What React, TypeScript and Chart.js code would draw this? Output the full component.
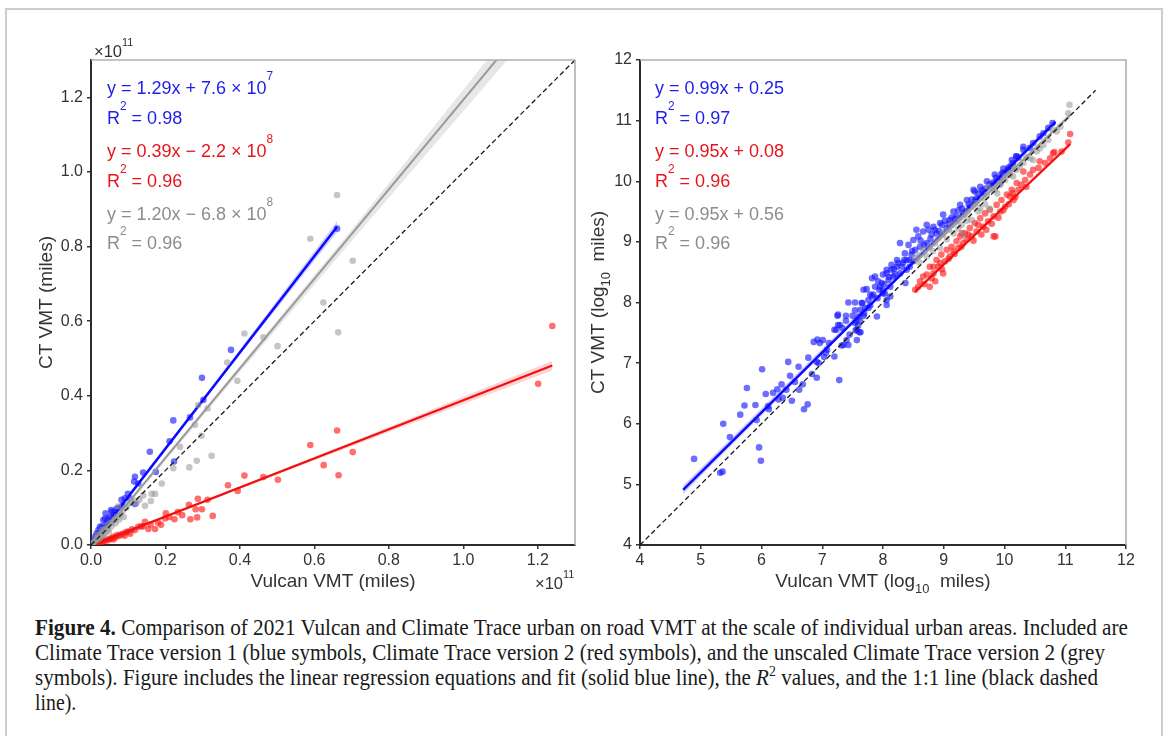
import React, { useEffect, useLayoutEffect, useRef } from 'react';
import { Chart, registerables } from 'chart.js';

Chart.register(...registerables);

type P = [number, number];
type B = [number, number, number];

// ---------------- LEFT PANEL (linear, units of 10^11 miles) ----------------
const LEFT_BLUE: P[] = [
  [0.661, 0.848], [0.376, 0.523], [0.298, 0.448], [0.302, 0.389], [0.266, 0.342], [0.221, 0.334],
  [0.211, 0.278], [0.223, 0.224], [0.158, 0.25], [0.174, 0.196], [0.14, 0.194], [0.118, 0.183],
  [0.116, 0.17], [0.127, 0.165], [0.099, 0.137], [0.105, 0.125], [0.091, 0.125], [0.082, 0.121],
  [0.118, 0.11], [0.069, 0.098], [0.064, 0.089], [0.056, 0.089], [0.075, 0.1], [0.085, 0.106],
  [0.06, 0.08], [0.05, 0.075], [0.046, 0.069], [0.038, 0.071], [0.033, 0.067], [0.042, 0.058],
  [0.036, 0.045], [0.03, 0.05], [0.028, 0.035], [0.024, 0.049], [0.02, 0.04], [0.018, 0.025],
  [0.015, 0.031], [0.012, 0.016], [0.011, 0.022], [0.008, 0.008], [0.007, 0.013], [0.005, 0.006],
  [0.004, 0.01], [0.003, 0.004], [0.002, 0.003], [0.026, 0.03], [0.014, 0.02], [0.01, 0.012],
  [0.006, 0.009], [0.022, 0.03], [0.054, 0.094], [0.039, 0.085],
];
const LEFT_RED: P[] = [
  [1.239, 0.587], [1.201, 0.432], [0.661, 0.307], [0.589, 0.268], [0.625, 0.214], [0.703, 0.249],
  [0.665, 0.187], [0.412, 0.186], [0.463, 0.182], [0.502, 0.175], [0.368, 0.16], [0.394, 0.145],
  [0.313, 0.121], [0.287, 0.124], [0.298, 0.096], [0.281, 0.096], [0.263, 0.108], [0.267, 0.069],
  [0.285, 0.074], [0.327, 0.078], [0.224, 0.069], [0.201, 0.085], [0.188, 0.054], [0.199, 0.071],
  [0.172, 0.043], [0.154, 0.043], [0.145, 0.062], [0.127, 0.049], [0.118, 0.04], [0.1, 0.036],
  [0.087, 0.031], [0.16, 0.055], [0.135, 0.05], [0.11, 0.042], [0.095, 0.035], [0.08, 0.028],
  [0.075, 0.024], [0.07, 0.027], [0.065, 0.02], [0.06, 0.022], [0.055, 0.018], [0.05, 0.016],
  [0.045, 0.012], [0.04, 0.014], [0.035, 0.01], [0.03, 0.009], [0.025, 0.006], [0.02, 0.005],
  [0.016, 0.004], [0.012, 0.003], [0.008, 0.002], [0.005, 0.001], [0.06, 0.015], [0.09, 0.025],
  [0.105, 0.03], [0.14, 0.05], [0.18, 0.06], [0.21, 0.075], [0.245, 0.08], [0.233, 0.088],
];
const LEFT_GREY: P[] = [
  [1.239, 1.79], [1.201, 1.32], [0.661, 0.938], [0.589, 0.821], [0.703, 0.762], [0.624, 0.65],
  [0.664, 0.57], [0.412, 0.567], [0.463, 0.557], [0.501, 0.533], [0.366, 0.489], [0.393, 0.44],
  [0.313, 0.366], [0.288, 0.375], [0.279, 0.322], [0.297, 0.293], [0.239, 0.263], [0.324, 0.239],
  [0.284, 0.226], [0.264, 0.208], [0.221, 0.206], [0.19, 0.165], [0.163, 0.137], [0.172, 0.137],
  [0.161, 0.118], [0.145, 0.105], [0.13, 0.121], [0.109, 0.116], [0.1, 0.11], [0.095, 0.1],
  [0.085, 0.092], [0.08, 0.082], [0.073, 0.103], [0.07, 0.076], [0.065, 0.07], [0.06, 0.066],
  [0.056, 0.06], [0.05, 0.058], [0.045, 0.05], [0.04, 0.045], [0.035, 0.04], [0.03, 0.034],
  [0.025, 0.028], [0.02, 0.022], [0.016, 0.017], [0.012, 0.012], [0.009, 0.009], [0.006, 0.006],
  [0.004, 0.003], [0.115, 0.12], [0.055, 0.05], [0.045, 0.042], [0.038, 0.03], [0.028, 0.024],
  [0.03, 0.04], [0.02, 0.028], [0.012, 0.02], [0.088, 0.075], [0.075, 0.068], [0.066, 0.058],
  [0.048, 0.036], [0.033, 0.028], [0.024, 0.018], [0.018, 0.014], [0.14, 0.133], [0.122, 0.112],
];
const LEFT_BLUE_FIT: P[] = [[0.002, 0.003], [0.661, 0.853]];
const LEFT_RED_FIT: P[] = [[0.002, -0.001], [1.239, 0.481]];
const LEFT_GREY_FIT: P[] = [[0.002, -0.004], [1.239, 1.48]];
const LEFT_ONE_TO_ONE: P[] = [[0, 0], [1.3, 1.3]];
const LEFT_BLUE_BAND: B[] = [[0.002, -0.002, 0.006], [0.3, 0.384, 0.392], [0.661, 0.838, 0.868]];
const LEFT_RED_BAND: B[] = [[0.002, -0.003, 0.0], [0.6, 0.227, 0.236], [1.239, 0.468, 0.494]];
const LEFT_GREY_BAND: B[] = [[0.002, -0.01, 0.0], [0.35, 0.405, 0.42], [0.7, 0.815, 0.845], [1.239, 1.44, 1.52]];
const LEFT_TICKS = [0, 0.2, 0.4, 0.6, 0.8, 1.0, 1.2];
const LEFT_TICK_LABELS = ['0.0', '0.2', '0.4', '0.6', '0.8', '1.0', '1.2'];

// ---------------- RIGHT PANEL (log10 miles) ----------------
const RIGHT_BLUE: P[] = [
  [4.89, 5.42], [5.32, 5.19], [5.36, 5.21], [5.48, 5.78], [5.37, 6.0], [5.65, 6.15], [5.72, 6.3],
  [5.76, 6.59], [5.9, 6.31], [5.92, 6.06], [5.96, 5.61], [5.99, 5.39], [6.01, 6.9], [6.07, 6.49],
  [6.11, 6.29], [6.12, 6.24], [6.19, 6.51], [6.26, 6.57], [6.33, 6.65], [6.28, 6.4], [6.35, 6.43],
  [6.41, 6.56], [6.44, 7.02], [6.47, 6.79], [6.5, 6.38], [6.55, 6.69], [6.62, 6.56], [6.61, 6.94],
  [6.68, 6.65], [6.7, 6.24], [6.76, 6.32], [6.77, 7.09], [6.83, 6.82], [6.91, 6.76], [6.91, 7.02],
  [6.94, 7.0], [6.86, 7.35], [6.92, 7.39], [7.01, 7.38], [6.96, 7.33], [7.03, 7.1], [7.06, 7.17],
  [7.28, 6.72], [7.26, 7.8], [7.26, 7.63], [7.33, 7.58], [7.2, 7.55], [7.11, 7.33], [7.08, 7.22],
  [7.2, 7.11], [7.35, 7.3], [7.4, 7.38], [7.45, 7.47], [7.57, 7.55], [7.54, 7.66], [7.6, 7.77],
  [7.69, 7.82], [7.76, 7.91], [7.63, 7.88], [7.66, 7.99], [7.82, 8.1], [7.94, 8.21], [8.0, 8.15],
  [7.91, 8.07], [7.57, 7.38], [7.63, 7.51],
  [7.23, 7.55], [7.29, 7.63], [7.25, 7.78], [7.39, 7.78], [7.39, 7.7], [7.32, 7.29], [7.43, 7.3],
  [7.43, 8.0], [7.54, 8.0], [7.54, 7.87], [7.5, 7.78], [7.56, 7.7], [7.59, 7.62], [7.55, 7.54],
  [7.61, 7.51], [7.65, 7.99], [7.71, 7.91], [7.68, 7.78], [7.62, 7.7], [7.73, 8.22], [7.76, 8.04],
  [7.79, 7.95], [7.84, 8.13], [7.9, 7.77], [7.87, 8.43], [7.92, 8.35], [7.95, 8.26], [8.0, 8.46],
  [8.06, 8.48], [8.09, 8.37], [8.12, 8.26], [8.03, 8.15], [8.06, 8.04], [8.14, 8.54], [8.17, 8.43],
  [8.23, 8.59], [8.28, 8.48], [8.33, 8.65], [8.39, 8.7], [8.47, 8.79], [8.5, 8.68], [8.44, 8.59],
  [8.39, 8.54], [8.06, 7.96], [8.12, 8.1], [8.37, 8.32],
  [7.68, 8.21], [7.79, 8.13], [7.98, 8.32], [8.06, 8.54], [8.14, 8.62], [8.2, 8.46], [8.23, 8.7],
  [8.31, 8.59], [8.36, 8.81], [8.42, 8.95], [8.44, 8.7], [8.5, 9.03], [8.53, 8.87], [8.58, 9.09],
  [8.61, 8.92], [8.66, 9.17], [8.72, 8.98], [8.75, 9.2], [8.8, 9.12], [8.83, 9.25], [8.88, 9.14],
  [8.94, 9.31], [8.99, 9.45], [9.05, 9.23], [9.1, 9.36], [9.16, 9.5], [9.21, 9.42], [9.27, 9.61],
  [9.32, 9.45], [9.38, 9.69], [9.43, 9.58], [9.49, 9.86], [9.54, 9.72], [9.6, 9.91], [9.65, 9.8],
  [9.71, 10.0], [9.79, 9.91], [9.84, 10.11], [9.93, 10.05], [9.98, 10.21], [10.06, 10.19],
  [10.12, 10.35], [10.2, 10.41], [7.87, 8.26], [8.0, 8.2], [8.28, 8.98], [8.55, 9.2], [8.72, 9.28],
  [7.82, 8.4], [9.51, 9.83], [10.19, 10.41], [10.31, 10.57],
  [8.48, 8.85], [8.62, 9.02], [8.68, 8.95], [8.78, 9.05], [8.85, 9.2], [8.92, 9.18], [8.97, 9.28],
  [9.02, 9.35], [9.08, 9.3], [9.13, 9.4], [9.19, 9.38], [9.24, 9.52], [9.3, 9.55], [9.35, 9.5],
  [9.41, 9.62], [9.46, 9.7], [9.52, 9.68], [9.57, 9.8], [9.63, 9.85], [9.68, 9.88], [9.75, 9.95],
  [9.88, 10.0], [9.95, 10.12], [10.02, 10.15], [10.1, 10.25], [8.35, 8.7], [8.25, 8.65],
  [8.18, 8.55], [8.1, 8.42], [8.02, 8.3],
  [10.79, 10.96], [10.72, 10.88], [10.64, 10.79], [10.58, 10.74], [10.47, 10.63], [10.42, 10.55],
  [10.31, 10.52], [10.23, 10.39], [10.14, 10.3], [10.06, 10.22], [9.97, 10.14], [9.86, 10.06],
  [9.81, 9.98], [9.93, 9.97],
];
const RIGHT_RED: P[] = [
  [8.53, 8.21], [8.58, 8.26], [8.61, 8.35], [8.72, 8.46], [8.77, 8.59], [8.83, 8.48], [8.88, 8.7],
  [8.94, 8.65], [8.96, 8.79], [9.02, 8.68], [9.05, 8.87], [9.1, 8.76], [9.13, 8.92], [9.16, 8.84],
  [9.21, 9.01], [9.24, 8.9], [9.27, 9.09], [9.32, 8.98], [9.35, 9.14], [9.38, 9.04], [9.43, 9.23],
  [9.46, 9.09], [9.51, 9.31], [9.54, 9.17], [9.6, 9.39], [9.65, 9.25], [9.68, 9.47], [9.73, 9.34],
  [9.76, 9.53], [9.82, 9.42], [9.82, 9.09], [9.87, 9.61], [9.93, 9.5], [9.95, 9.69], [10.01, 9.58],
  [10.04, 9.78], [10.12, 9.86], [10.15, 9.69], [8.77, 8.26], [8.66, 8.43], [8.86, 8.35],
  [8.99, 8.48], [8.91, 8.59], [8.83, 8.59], [9.3, 9.14], [9.85, 9.09],
  [10.82, 10.48], [11.08, 10.78], [11.05, 10.64], [10.94, 10.49], [10.8, 10.46], [10.75, 10.38],
  [10.67, 10.3], [10.58, 10.33], [10.56, 10.22], [10.47, 10.19], [10.42, 10.11], [10.34, 10.02],
  [10.28, 9.94], [10.36, 9.91], [10.23, 9.86], [10.14, 9.8], [10.09, 9.75], [10.2, 9.97],
  [10.31, 10.16],
  [8.68, 8.3], [8.8, 8.4], [8.97, 8.55], [9.08, 8.72], [9.18, 8.8], [9.29, 8.92], [9.4, 9.12],
  [9.49, 9.02], [9.57, 9.28], [9.62, 9.12], [9.7, 9.2], [9.79, 9.3], [9.9, 9.4], [9.98, 9.52],
  [10.07, 9.62], [10.18, 9.74],
];
const RIGHT_GREY: P[] = [
  [11.07, 11.26], [11.05, 11.12], [10.8, 10.85], [10.86, 10.82], [10.72, 10.68], [10.64, 10.6],
  [10.53, 10.49], [10.42, 10.38], [10.47, 10.35], [10.31, 10.3], [10.2, 10.19], [10.09, 10.11],
  [10.14, 10.08], [10.01, 10.02], [9.93, 9.94], [9.84, 9.86],
  [8.53, 8.73], [8.58, 8.78], [8.66, 8.87], [8.72, 8.76], [8.77, 8.92], [8.86, 8.98], [8.91, 9.06],
  [8.94, 8.9], [8.99, 9.12], [9.05, 9.04], [9.08, 9.2], [9.13, 9.28], [9.16, 9.14], [9.21, 9.34],
  [9.27, 9.39], [9.29, 9.28], [9.35, 9.45], [9.4, 9.5], [9.46, 9.36], [9.49, 9.58], [9.54, 9.64],
  [9.6, 9.55], [9.65, 9.72], [9.71, 9.78], [9.73, 9.91], [9.79, 9.86], [9.84, 9.88], [9.93, 9.97],
  [10.01, 10.08], [10.09, 10.13], [10.17, 10.21], [9.75, 9.55], [9.32, 9.12],
  [8.6, 8.66], [8.82, 8.85], [9.02, 9.18], [9.24, 9.22], [9.38, 9.35], [9.57, 9.5], [9.68, 9.62],
  [9.88, 9.8], [10.25, 10.24], [10.36, 10.4], [10.58, 10.54], [10.92, 10.9],
];
const RIGHT_BLUE_FIT: P[] = [[4.71, 4.91], [10.84, 10.98]];
const RIGHT_RED_FIT: P[] = [[8.53, 8.18], [11.08, 10.61]];
const RIGHT_GREY_FIT: P[] = [[8.53, 8.66], [11.08, 11.09]];
const RIGHT_ONE_TO_ONE: P[] = [[4, 4], [11.5, 11.5]];
const RIGHT_BLUE_BAND: B[] = [[4.71, 4.84, 4.98], [8.5, 8.66, 8.72], [10.84, 10.93, 11.03]];
const RIGHT_RED_BAND: B[] = [[8.53, 8.14, 8.22], [9.7, 9.29, 9.33], [11.08, 10.57, 10.66]];
const RIGHT_GREY_BAND: B[] = [[8.53, 8.63, 8.7], [11.08, 11.05, 11.13]];
const RIGHT_TICKS = [4, 5, 6, 7, 8, 9, 10, 11, 12];
const RIGHT_TICK_LABELS = ['4', '5', '6', '7', '8', '9', '10', '11', '12'];

// ---------------- TEXT ----------------
type Run = { t: string; dy?: number; k?: number };
const sup = (t: string, dy = -0.78): Run => ({ t, dy, k: 0.66 });
const sub = (t: string): Run => ({ t, dy: 0.3, k: 0.68 });

const LEFT_EQUATIONS: Run[][] = [
  [{ t: 'y = 1.29x + 7.6 × 10' }, sup('7')],
  [{ t: 'R' }, sup('2'), { t: ' = 0.98' }],
  [{ t: 'y = 0.39x − 2.2 × 10' }, sup('8')],
  [{ t: 'R' }, sup('2'), { t: ' = 0.96' }],
  [{ t: 'y = 1.20x − 6.8 × 10' }, sup('8')],
  [{ t: 'R' }, sup('2'), { t: ' = 0.96' }],
];
const RIGHT_EQUATIONS: Run[][] = [
  [{ t: 'y = 0.99x + 0.25' }],
  [{ t: 'R' }, sup('2'), { t: ' = 0.97' }],
  [{ t: 'y = 0.95x + 0.08' }],
  [{ t: 'R' }, sup('2'), { t: ' = 0.96' }],
  [{ t: 'y = 0.95x + 0.56' }],
  [{ t: 'R' }, sup('2'), { t: ' = 0.96' }],
];
const LEFT_X_TITLE: Run[] = [{ t: 'Vulcan VMT (miles)' }];
const LEFT_Y_TITLE: Run[] = [{ t: 'CT VMT (miles)' }];
const RIGHT_X_TITLE: Run[] = [{ t: 'Vulcan VMT (log' }, sub('10'), { t: '  miles)' }];
const RIGHT_Y_TITLE: Run[] = [{ t: 'CT VMT (log' }, sub('10'), { t: '  miles)' }];
const MULTIPLIER: Run[] = [{ t: '×10' }, sup('11', -0.66)];

const CAPTION: { t: string; b?: boolean; i?: boolean; sup?: boolean }[][] = [
  [{ t: 'Figure 4.', b: true }, { t: ' Comparison of 2021 Vulcan and Climate Trace urban on road VMT at the scale of individual urban areas. Included are' }],
  [{ t: 'Climate Trace version 1 (blue symbols, Climate Trace version 2 (red symbols), and the unscaled Climate Trace version 2 (grey' }],
  [{ t: 'symbols). Figure includes the linear regression equations and fit (solid blue line), the ' }, { t: 'R', i: true }, { t: '2', sup: true }, { t: ' values, and the 1:1 line (black dashed' }],
  [{ t: 'line).' }],
];

// ---------------- STYLE ----------------
const FONT = '"Liberation Sans", Arial, sans-serif';
const BLUE_PT = 'rgba(20,20,255,0.62)';
const RED_PT = 'rgba(255,20,20,0.62)';
const GREY_PT = 'rgba(150,150,150,0.55)';
const BLUE_TXT = '#1e1ee8';
const RED_TXT = '#e8141c';
const GREY_TXT = '#8c8c8c';
const AXIS_TXT = '#333333';

function runsWidth(ctx: CanvasRenderingContext2D, runs: Run[], size: number) {
  let w = 0;
  for (const r of runs) {
    ctx.font = `${size * (r.k ?? 1)}px ${FONT}`;
    w += ctx.measureText(r.t).width;
  }
  return w;
}

function drawRuns(ctx: CanvasRenderingContext2D, runs: Run[], x: number, y: number, size: number, color: string, center = false, rotate = false) {
  ctx.save();
  ctx.fillStyle = color;
  ctx.textBaseline = 'alphabetic';
  ctx.textAlign = 'left';
  ctx.translate(x, y);
  if (rotate) ctx.rotate(-Math.PI / 2);
  let cx = center ? -runsWidth(ctx, runs, size) / 2 : 0;
  for (const r of runs) {
    ctx.font = `${size * (r.k ?? 1)}px ${FONT}`;
    ctx.fillText(r.t, cx, (r.dy ?? 0) * size);
    cx += ctx.measureText(r.t).width;
  }
  ctx.restore();
}

type Panel = {
  blue: P[]; red: P[]; grey: P[];
  blueFit: P[]; redFit: P[]; greyFit: P[]; oneToOne: P[];
  blueBand: B[]; redBand: B[]; greyBand: B[];
  min: number; max: number; ticks: number[]; labels: string[];
  equations: Run[][]; xTitle: Run[]; yTitle: Run[];
  padding: { left: number; right: number; top: number; bottom: number };
  yWidth: number; xHeight: number;
  eqX: number; yTitleX: number; multipliers: boolean;
};

const pts = (a: P[]) => a.map(([x, y]) => ({ x, y }));

function scatterDs(data: P[], color: string) {
  return { data: pts(data), backgroundColor: color, borderWidth: 0, pointRadius: 3.3, pointHoverRadius: 3.3, showLine: false };
}
function lineDs(data: P[], color: string, width: number, dash: number[] = []) {
  return { data: pts(data), showLine: true, borderColor: color, borderWidth: width, borderDash: dash, pointRadius: 0, fill: false, clip: 0, tension: 0 };
}
function bandDs(band: B[], color: string) {
  return [
    { data: band.map(([x, , hi]) => ({ x, y: hi })), showLine: true, borderWidth: 0, borderColor: 'rgba(0,0,0,0)', pointRadius: 0, fill: false, clip: 0 },
    { data: band.map(([x, lo]) => ({ x, y: lo })), showLine: true, borderWidth: 0, borderColor: 'rgba(0,0,0,0)', pointRadius: 0, fill: '-1', backgroundColor: color, clip: 0 },
  ];
}

function axis(p: Panel, isX: boolean) {
  return {
    type: 'linear',
    min: p.min,
    max: p.max,
    afterBuildTicks: (s: any) => { s.ticks = p.ticks.map((v) => ({ value: v })); },
    ticks: {
      callback: (_v: any, i: number) => p.labels[i] ?? '',
      font: { family: FONT, size: 16 },
      color: AXIS_TXT,
      padding: isX ? 2 : 4,
      autoSkip: false,
      maxRotation: 0,
      includeBounds: false,
    },
    grid: { display: true, drawOnChartArea: false, drawTicks: true, tickLength: 4, color: '#333', lineWidth: 1.5 },
    border: { display: true, color: '#2b2b2b', width: 2 },
    afterFit: (s: any) => { if (isX) s.height = p.xHeight; else s.width = p.yWidth; },
  };
}

function decor(p: Panel) {
  return {
    id: 'decor',
    afterDraw(chart: any) {
      const ctx: CanvasRenderingContext2D = chart.ctx;
      const a = chart.chartArea;
      ctx.save();
      ctx.strokeStyle = '#b0b0b0';
      ctx.lineWidth = 1.6;
      ctx.beginPath();
      ctx.moveTo(a.left, a.top);
      ctx.lineTo(a.right, a.top);
      ctx.lineTo(a.right, a.bottom);
      ctx.stroke();
      ctx.restore();
      const colors = [BLUE_TXT, BLUE_TXT, RED_TXT, RED_TXT, GREY_TXT, GREY_TXT];
      const baselines = [94, 124, 157, 187, 220, 249];
      p.equations.forEach((runs, i) => drawRuns(ctx, runs, p.eqX, baselines[i], 18, colors[i]));
      const cx = (a.left + a.right) / 2;
      const cy = (a.top + a.bottom) / 2;
      drawRuns(ctx, p.xTitle, cx, 587, 19, AXIS_TXT, true);
      drawRuns(ctx, p.yTitle, p.yTitleX, cy, 19, AXIS_TXT, true, true);
      if (p.multipliers) {
        drawRuns(ctx, MULTIPLIER, a.left + 3, 57, 16.5, AXIS_TXT);
        drawRuns(ctx, MULTIPLIER, a.right - 40, 589, 16.5, AXIS_TXT);
      }
    },
  };
}

function buildConfig(p: Panel): any {
  return {
    type: 'scatter',
    data: {
      datasets: [
        lineDs(p.oneToOne, '#1a1a1a', 1.3, [5, 3]),
        lineDs(p.greyFit, '#9a9a9a', 2),
        ...bandDs(p.greyBand, 'rgba(185,185,185,0.35)'),
        scatterDs(p.grey, GREY_PT),
        lineDs(p.redFit, '#f01010', 2.2),
        ...bandDs(p.redBand, 'rgba(255,60,60,0.22)'),
        scatterDs(p.red, RED_PT),
        lineDs(p.blueFit, '#0a0aff', 2.5),
        ...bandDs(p.blueBand, 'rgba(40,40,255,0.22)'),
        scatterDs(p.blue, BLUE_PT),
      ],
    },
    options: {
      animation: false,
      responsive: false,
      devicePixelRatio: 1,
      events: [],
      layout: { padding: p.padding },
      plugins: { legend: { display: false }, tooltip: { enabled: false } },
      scales: { x: axis(p, true), y: axis(p, false) },
    },
    plugins: [decor(p)],
  };
}

const LEFT_PANEL: Panel = {
  blue: LEFT_BLUE, red: LEFT_RED, grey: LEFT_GREY,
  blueFit: LEFT_BLUE_FIT, redFit: LEFT_RED_FIT, greyFit: LEFT_GREY_FIT, oneToOne: LEFT_ONE_TO_ONE,
  blueBand: LEFT_BLUE_BAND, redBand: LEFT_RED_BAND, greyBand: LEFT_GREY_BAND,
  min: 0, max: 1.3, ticks: LEFT_TICKS, labels: LEFT_TICK_LABELS,
  equations: LEFT_EQUATIONS, xTitle: LEFT_X_TITLE, yTitle: LEFT_Y_TITLE,
  padding: { left: 41, right: 15, top: 60, bottom: 0 }, yWidth: 50, xHeight: 55,
  eqX: 107, yTitleX: 52, multipliers: true,
};
const RIGHT_PANEL: Panel = {
  blue: RIGHT_BLUE, red: RIGHT_RED, grey: RIGHT_GREY,
  blueFit: RIGHT_BLUE_FIT, redFit: RIGHT_RED_FIT, greyFit: RIGHT_GREY_FIT, oneToOne: RIGHT_ONE_TO_ONE,
  blueBand: RIGHT_BLUE_BAND, redBand: RIGHT_RED_BAND, greyBand: RIGHT_GREY_BAND,
  min: 4, max: 12, ticks: RIGHT_TICKS, labels: RIGHT_TICK_LABELS,
  equations: RIGHT_EQUATIONS, xTitle: RIGHT_X_TITLE, yTitle: RIGHT_Y_TITLE,
  padding: { left: 20, right: 39, top: 60, bottom: 0 }, yWidth: 40, xHeight: 55,
  eqX: 75, yTitleX: 24, multipliers: false,
};

function PanelChart({ panel, left, width }: { panel: Panel; left: number; width: number }) {
  const ref = useRef<HTMLCanvasElement>(null);
  useEffect(() => {
    const chart = new Chart(ref.current as HTMLCanvasElement, buildConfig(panel));
    return () => chart.destroy();
  }, [panel]);
  return (
    <canvas ref={ref} width={width} height={600}
      style={{ position: 'absolute', left, top: 0, width, height: 600 }} />
  );
}

const CAPTION_WIDTHS = [1093, 1070, 1063, 0];
const CAPTION_BASELINES = [635, 660, 685, 710];

function CaptionLine({ segs, target, baseline }: { segs: typeof CAPTION[number]; target: number; baseline: number }) {
  const ref = useRef<HTMLSpanElement>(null);
  useLayoutEffect(() => {
    const el = ref.current;
    if (!el) return;
    const w = el.getBoundingClientRect().width;
    const s = target ? target / w : 0.86;
    el.style.transform = `scaleX(${s})`;
  }, [target]);
  return (
    <span ref={ref} style={{
      position: 'absolute', left: 35, top: baseline - 19, whiteSpace: 'nowrap',
      fontFamily: '"Liberation Serif", serif', fontSize: 23, lineHeight: '23px', color: '#1a1a1a',
      transformOrigin: 'left top', display: 'inline-block',
    }}>
      {segs.map((s, i) => s.b ? <b key={i}>{s.t}</b> : s.i ? <i key={i}>{s.t}</i> : s.sup ?
        <span key={i} style={{ fontSize: 15, position: 'relative', top: -9 }}>{s.t}</span> : <span key={i}>{s.t}</span>)}
    </span>
  );
}

export default function App() {
  return (
    <div style={{ position: 'absolute', left: 0, top: 0, width: 1165, height: 736, background: '#fff', overflow: 'hidden' }}>
      <div style={{ position: 'absolute', left: 5, top: 8, width: 1154, height: 760, border: '2px solid #cdcdcd' }} />
      <PanelChart panel={LEFT_PANEL} left={0} width={590} />
      <PanelChart panel={RIGHT_PANEL} left={580} width={585} />
      {CAPTION.map((segs, i) => (
        <CaptionLine key={i} segs={segs} target={CAPTION_WIDTHS[i]} baseline={CAPTION_BASELINES[i]} />
      ))}
    </div>
  );
}
